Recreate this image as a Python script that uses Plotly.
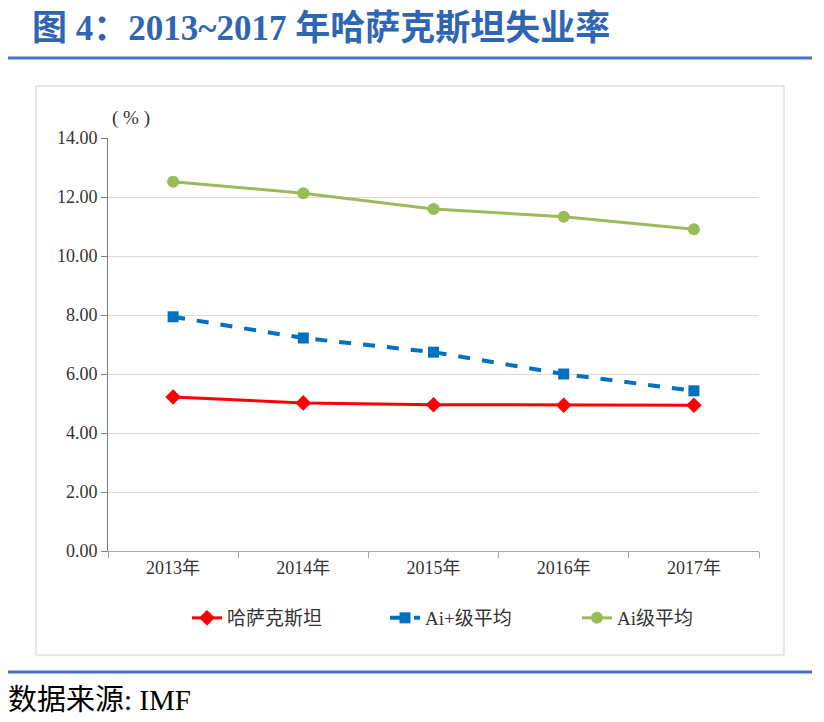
import plotly.graph_objects as go

years = ["2013年", "2014年", "2015年", "2016年", "2017年"]
kaz = [5.22, 5.02, 4.96, 4.94, 4.94]
ai_plus = [7.94, 7.22, 6.74, 6.00, 5.43]
ai = [12.52, 12.13, 11.59, 11.33, 10.91]
y_ticks = [0, 2, 4, 6, 8, 10, 12, 14]

W, H = 824, 722
OFF = 8  # page body margin
L, R, T, B = 108, 759, 138, 551  # plot area in page pixels

def px(x):
    return (x - L) / (R - L)

def py(y):
    return (B - y) / (B - T)

serif = "Liberation Serif, Noto Sans CJK SC"

fig = go.Figure()
fig.add_trace(go.Scatter(x=years, y=kaz, name="哈萨克斯坦", mode="lines+markers", legend="legend",
                         line=dict(color="#FF0000", width=3),
                         marker=dict(symbol="diamond", size=12, color="#FF0000")))
fig.add_trace(go.Scatter(x=years, y=ai_plus, name="Ai+级平均", mode="lines+markers", legend="legend2",
                         line=dict(color="#0070C0", width=4, dash="dash"),
                         marker=dict(symbol="square", size=11, color="#0070C0")))
fig.add_trace(go.Scatter(x=years, y=ai, name="Ai级平均", mode="lines+markers", legend="legend3",
                         line=dict(color="#9BBB59", width=3),
                         marker=dict(symbol="circle", size=12, color="#9BBB59")))

leg_common = dict(orientation="h", xanchor="left", yanchor="middle",
                  font=dict(family=serif, size=19, color="#333333"),
                  bgcolor="rgba(0,0,0,0)")

fig.update_layout(
    width=W, height=H,
    margin=dict(l=L - OFF, r=W - (R - OFF), t=T - OFF, b=H - (B - OFF)),
    paper_bgcolor="white", plot_bgcolor="white",
    font=dict(family=serif, size=16, color="#333333"),
    showlegend=True,
    legend=dict(x=px(187), y=py(618), **leg_common),
    legend2=dict(x=px(385), y=py(618), **leg_common),
    legend3=dict(x=px(577), y=py(618), **leg_common),
    xaxis=dict(type="category", range=[-0.5, 4.5], showgrid=False,
               showline=True, linecolor="#a6a6a6", linewidth=1,
               ticks="outside", tickson="boundaries", ticklen=6, tickcolor="#a6a6a6",
               tickfont=dict(family=serif, size=18, color="#333333")),
    yaxis=dict(range=[0, 14], tickvals=y_ticks, tickformat=".2f",
               showgrid=True, gridcolor="#d9d9d9", gridwidth=1,
               showline=True, linecolor="#7f7f7f", linewidth=1,
               ticks="outside", ticklen=6, tickcolor="#7f7f7f",
               zeroline=False,
               tickfont=dict(family=serif, size=18, color="#333333")),
)

shapes = [
    dict(type="rect", xref="paper", yref="paper", x0=px(36), x1=px(784), y0=py(655), y1=py(86),
         line=dict(color="#d0d0d0", width=1), fillcolor="rgba(0,0,0,0)", layer="below"),
    dict(type="line", xref="paper", yref="paper", x0=px(8), x1=px(812), y0=py(58), y1=py(58),
         line=dict(color="#4472C4", width=3)),
    dict(type="line", xref="paper", yref="paper", x0=px(8), x1=px(812), y0=py(672), y1=py(672),
         line=dict(color="#4472C4", width=3)),
]
fig.update_layout(shapes=shapes)

fig.add_annotation(xref="paper", yref="paper", x=px(30), y=py(28), xanchor="left", yanchor="middle",
                   text="<b>图 4：2013~2017 年哈萨克斯坦失业率</b>", showarrow=False,
                   font=dict(family=serif, size=35, color="#2F66B3"))
fig.add_annotation(xref="paper", yref="paper", x=px(110), y=py(118), xanchor="left", yanchor="middle",
                   text="( % )", showarrow=False,
                   font=dict(family=serif, size=19, color="#333333"))
fig.add_annotation(xref="paper", yref="paper", x=px(6), y=py(700), xanchor="left", yanchor="middle",
                   text="数据来源: IMF", showarrow=False,
                   font=dict(family=serif, size=29, color="#000000"))

fig.write_html("out.html")
